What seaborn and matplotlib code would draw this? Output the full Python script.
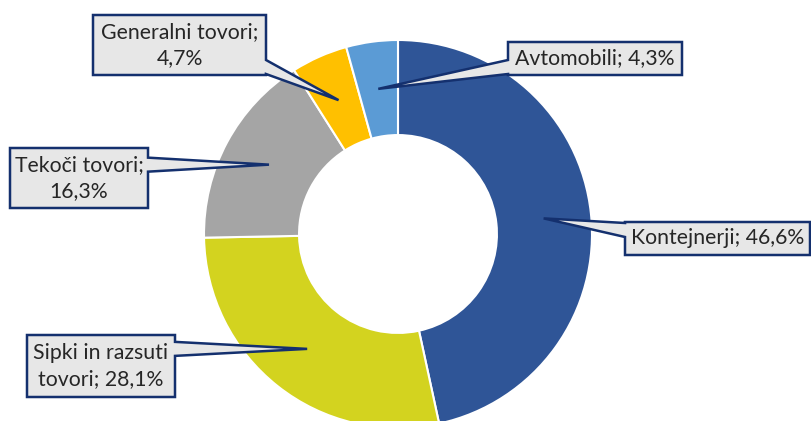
import matplotlib

matplotlib.use("Agg")

import matplotlib.pyplot as plt
import numpy as np
import seaborn as sns
from matplotlib.patches import Polygon

# data
categories = [
    "Kontejnerji",
    "Sipki in razsuti tovori",
    "Tekoči tovori",
    "Generalni tovori",
    "Avtomobili",
]
shares = [46.6, 28.1, 16.3, 4.7, 4.3]
label_texts = [
    "Kontejnerji; 46,6%",
    "Sipki in razsuti\ntovori; 28,1%",
    "Tekoči tovori;\n16,3%",
    "Generalni tovori;\n4,7%",
    "Avtomobili; 4,3%",
]
colors = ["#2F5597", "#D3D31F", "#A5A5A5", "#FFC000", "#5B9BD5"]

# layout (pixel coords, y down): label boxes x0, y0, x1, y1
W, H = 811, 421
CX, CY, R, HOLE = 398, 234, 194, 0.51
boxes = [
    (625, 222, 810, 255),
    (27, 335, 175, 397),
    (10, 148, 148, 208),
    (93, 15, 266, 75),
    (508, 42, 682, 75),
]

sns.set_theme(style="white")
plt.rcParams["font.family"] = ["Lato", "DejaVu Sans"]

fig = plt.figure(figsize=(W / 100, H / 100), dpi=100)
ax = fig.add_axes([0, 0, 1, 1])

wedges, _ = ax.pie(
    shares,
    colors=colors,
    startangle=90,
    counterclock=False,
    center=(CX, H - CY),
    radius=R,
    wedgeprops=dict(width=R * (1 - HOLE), edgecolor="white", linewidth=1.5),
    frame=True,
)
ax.set_xlim(0, W)
ax.set_ylim(0, H)
ax.set_aspect("equal")
ax.axis("off")

edge = "#14306E"
r_tip = R * (1 + HOLE) / 2
for w, text, (x0, y0, x1, y1) in zip(wedges, label_texts, boxes):
    mid = np.deg2rad((w.theta1 + w.theta2) / 2)
    tx = CX + r_tip * np.cos(mid)
    ty = H - CY + r_tip * np.sin(mid)
    Y0, Y1 = H - y0, H - y1
    bc = min(max(ty, Y1 + 8), Y0 - 8)
    b_hi, b_lo = bc + 7, bc - 7
    if tx > x1:
        pts = [(x0, Y0), (x1, Y0), (x1, b_hi), (tx, ty), (x1, b_lo), (x1, Y1), (x0, Y1)]
    else:
        pts = [(x0, Y0), (x1, Y0), (x1, Y1), (x0, Y1), (x0, b_lo), (tx, ty), (x0, b_hi)]
    ax.add_patch(
        Polygon(pts, closed=True, facecolor="#E7E7E7", edgecolor=edge,
                linewidth=1.8, joinstyle="miter", zorder=5)
    )
    ax.text((x0 + x1) / 2, (Y0 + Y1) / 2, text, ha="center", va="center",
            fontsize=15.3, color="#262626", linespacing=1.38, zorder=6)

fig.savefig("out.png", dpi=100)
